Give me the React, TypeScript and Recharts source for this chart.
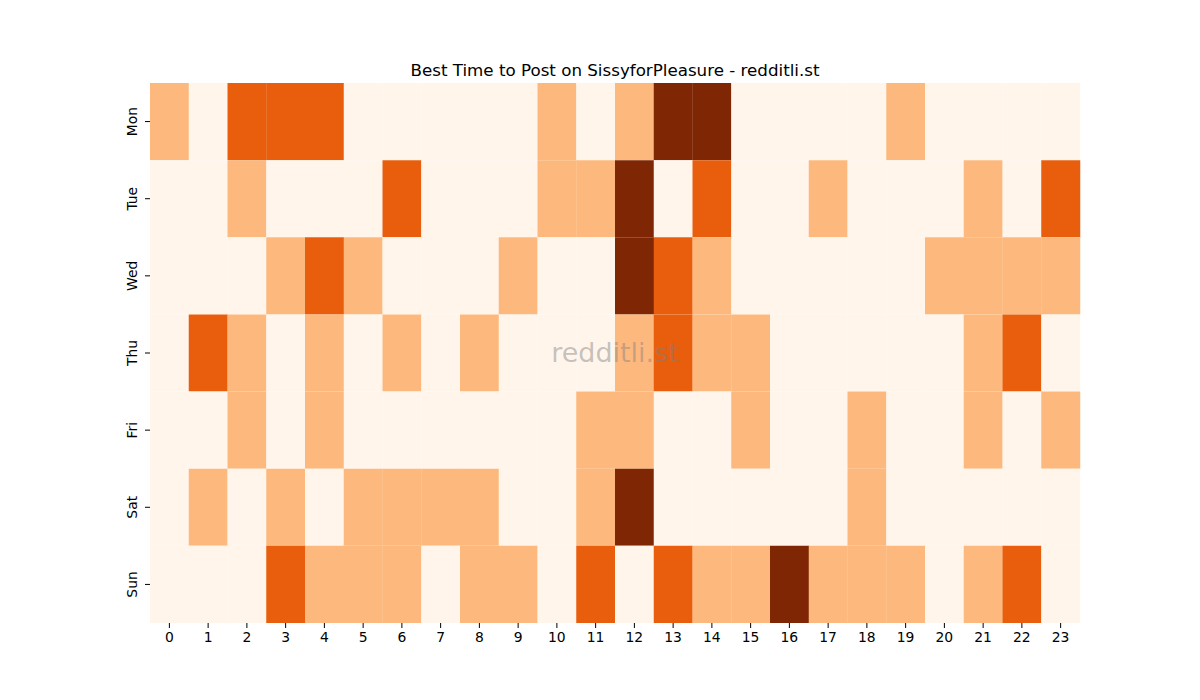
import { BarChart, Bar, Cell, XAxis, YAxis } from "recharts";

const days = ["Mon", "Tue", "Wed", "Thu", "Fri", "Sat", "Sun"];
const hours = [
  "0", "1", "2", "3", "4", "5", "6", "7", "8", "9", "10", "11",
  "12", "13", "14", "15", "16", "17", "18", "19", "20", "21", "22", "23",
];

// activity level per hour, 0 (low) .. 3 (best)
const mon = [1, 0, 2, 2, 2, 0, 0, 0, 0, 0, 1, 0, 1, 3, 3, 0, 0, 0, 0, 1, 0, 0, 0, 0];
const tue = [0, 0, 1, 0, 0, 0, 2, 0, 0, 0, 1, 1, 3, 0, 2, 0, 0, 1, 0, 0, 0, 1, 0, 2];
const wed = [0, 0, 0, 1, 2, 1, 0, 0, 0, 1, 0, 0, 3, 2, 1, 0, 0, 0, 0, 0, 1, 1, 1, 1];
const thu = [0, 2, 1, 0, 1, 0, 1, 0, 1, 0, 0, 0, 1, 2, 1, 1, 0, 0, 0, 0, 0, 1, 2, 0];
const fri = [0, 0, 1, 0, 1, 0, 0, 0, 0, 0, 0, 1, 1, 0, 0, 1, 0, 0, 1, 0, 0, 1, 0, 1];
const sat = [0, 1, 0, 1, 0, 1, 1, 1, 1, 0, 0, 1, 3, 0, 0, 0, 0, 0, 1, 0, 0, 0, 0, 0];
const sun = [0, 0, 0, 2, 1, 1, 1, 0, 1, 1, 0, 2, 0, 2, 1, 1, 3, 1, 1, 1, 0, 1, 2, 0];

const levels = [mon, tue, wed, thu, fri, sat, sun];
const palette = ["#fff5eb", "#fdb97d", "#e95e0d", "#7f2704"];

const rows = hours.map((h) => {
  const row: Record<string, string | number> = { hour: h };
  days.forEach((d) => (row[d] = 1));
  return row;
});

const font = "'DejaVu Sans', sans-serif";

function DayTick({ x, y, payload }: any) {
  return (
    <g transform={`translate(${x - 5},${y})`}>
      <text
        transform="rotate(-90)"
        textAnchor="middle"
        fontSize={13.9}
        fontFamily={font}
        fill="#000"
      >
        {days[Math.floor(payload.value)]}
      </text>
    </g>
  );
}

export default function App() {
  return (
    <div
      style={{
        position: "absolute",
        left: 0,
        top: 0,
        width: 1200,
        height: 700,
        background: "#fff",
      }}
    >
      <div
        style={{
          position: "absolute",
          top: 60,
          left: 150,
          width: 930,
          textAlign: "center",
          fontFamily: font,
          fontSize: 16.7,
          color: "#000",
        }}
      >
        Best Time to Post on SissyforPleasure - redditli.st
      </div>
      <BarChart
        width={1200}
        height={700}
        data={rows}
        barCategoryGap={0}
        barGap={0}
        margin={{ top: 83, right: 120, bottom: 47, left: 120 }}
      >
        <XAxis
          dataKey="hour"
          axisLine={false}
          tickSize={5}
          tickMargin={4}
          interval={0}
          tick={{ fill: "#000", fontSize: 13.9, fontFamily: font }}
          tickLine={{ stroke: "#000" }}
          height={30}
        />
        <YAxis
          type="number"
          domain={[0, 7]}
          reversed
          ticks={[0.5, 1.5, 2.5, 3.5, 4.5, 5.5, 6.5]}
          axisLine={false}
          tickSize={5}
          tickMargin={3}
          tick={<DayTick />}
          tickLine={{ stroke: "#000" }}
          width={30}
        />
        {days.map((d, di) => (
          <Bar key={d} dataKey={d} stackId="a" isAnimationActive={false}>
            {levels[di].map((lv, i) => (
              <Cell key={i} fill={palette[lv]} />
            ))}
          </Bar>
        ))}
      </BarChart>
      <div
        style={{
          position: "absolute",
          left: 150,
          width: 930,
          top: 337,
          textAlign: "center",
          fontFamily: font,
          fontSize: 27,
          color: "rgba(128,128,128,0.45)",
          pointerEvents: "none",
        }}
      >
        redditli.st
      </div>
    </div>
  );
}
